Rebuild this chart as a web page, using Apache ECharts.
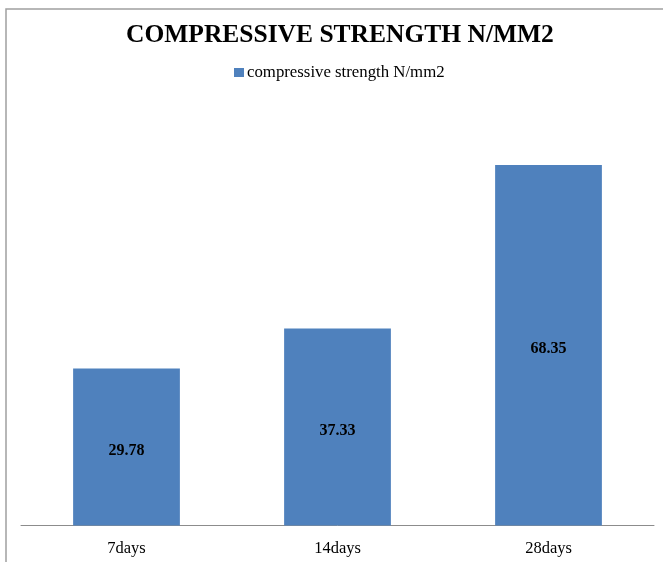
<!DOCTYPE html>
<html>
<head>
<meta charset="utf-8">
<title>Compressive strength</title>
<script src="https://cdn.jsdelivr.net/npm/echarts@6/dist/echarts.min.js"></script>
<style>
  html, body { margin: 0; padding: 0; background: #ffffff; }
  #chart { width: 663px; height: 562px; }
</style>
</head>
<body>
<div id="chart"></div>
<script>
// Curing ages and measured compressive strength (N/mm2)
const categories = ['7days', '14days', '28days'];
const strengthValues = [29.78, 37.33, 68.35];
const seriesName = 'compressive strength N/mm2';
const chartTitle = 'COMPRESSIVE STRENGTH N/MM2';

const serif = '"Liberation Serif", "Times New Roman", serif';

const chart = echarts.init(document.getElementById('chart'), null, { renderer: 'canvas' });

chart.setOption({
  backgroundColor: '#ffffff',
  animation: false,
  title: {
    text: chartTitle,
    left: 126,
    top: 22,
    padding: 0,
    textStyle: {
      fontFamily: serif,
      fontSize: 25.5,
      fontWeight: 'bold',
      color: '#000000'
    }
  },
  legend: {
    data: [seriesName],
    left: 234,
    top: 64,
    padding: 0,
    itemWidth: 10,
    itemHeight: 9,
    icon: 'rect',
    textStyle: {
      fontFamily: serif,
      fontSize: 16.8,
      color: '#000000',
      padding: [0, 0, 0, -2]
    }
  },
  // Chart-area frame
  graphic: [{
    type: 'rect',
    shape: { x: 6, y: 9, width: 720, height: 620 },
    style: { fill: 'none', stroke: '#a0a0a0', lineWidth: 1.5 },
    silent: true,
    z: -1
  }],
  grid: {
    left: 21,
    right: 9,
    top: 103.5,
    bottom: 36.5,
    containLabel: false
  },
  xAxis: {
    type: 'category',
    data: categories,
    axisLine: { show: true, lineStyle: { color: '#8c8c8c', width: 1 } },
    axisTick: { show: false },
    axisLabel: {
      fontFamily: serif,
      fontSize: 16.5,
      color: '#000000',
      margin: 15
    }
  },
  yAxis: {
    type: 'value',
    min: 0,
    max: 80,
    interval: 10,
    show: false,
    splitLine: { show: false }
  },
  series: [{
    name: seriesName,
    type: 'bar',
    data: strengthValues,
    barWidth: '50.6%',
    itemStyle: { color: '#4f81bd' },
    label: {
      show: true,
      position: 'inside',
      offset: [0, 4],
      fontFamily: serif,
      fontSize: 16,
      fontWeight: 'bold',
      color: '#000000',
      formatter: (p) => p.value.toFixed(2)
    }
  }]
});
</script>
</body>
</html>
